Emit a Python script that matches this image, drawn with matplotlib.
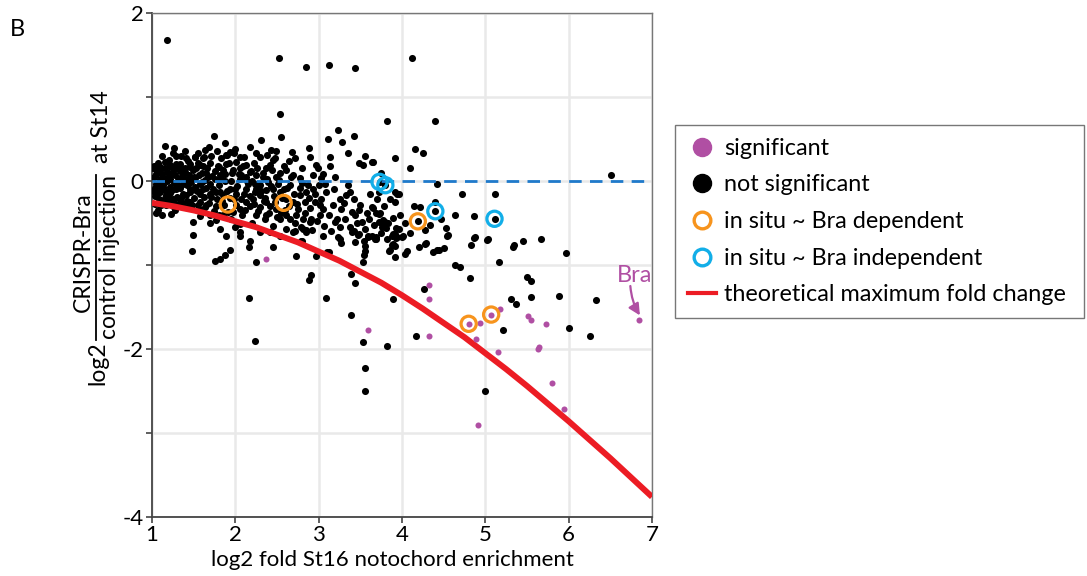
import numpy as np
import matplotlib
matplotlib.use("Agg")
import matplotlib.pyplot as plt
from matplotlib.lines import Line2D
from matplotlib.ticker import FixedLocator, FuncFormatter

plt.rcParams['font.family'] = ['Lato', 'DejaVu Sans']
plt.rcParams['axes.unicode_minus'] = False

# ---------------- data ----------------
# not significant genes (x = log2 St16 notochord enrichment, y = log2 CRISPR/control)
ns_sparse = [(1.18, 1.68), (2.52, 1.47), (2.85, 1.36), (3.12, 1.38), (3.44, 1.35), (4.12, 1.46),
             (2.53, 0.80), (3.23, 0.61), (3.82, 0.72), (4.40, 0.71),
             (1.74, 0.54), (2.55, 0.52), (2.31, 0.49), (3.11, 0.50), (3.28, 0.47), (3.42, 0.53),
             (1.15, 0.42), (1.26, 0.39), (4.16, 0.38), (4.25, 0.33), (3.92, 0.27), (3.65, 0.23),
             (4.09, 0.15), (6.51, 0.07)]

ns_upper = [(1.63, 0.37), (1.52, 0.29), (1.41, 0.27), (1.34, 0.17), (1.22, 0.19), (1.45, 0.17),
            (1.57, 0.19), (1.71, 0.30), (1.83, 0.27), (1.90, 0.31), (1.98, 0.33), (1.92, 0.21),
            (2.01, 0.23), (1.80, 0.17), (2.05, 0.15), (2.13, 0.19), (2.25, 0.33), (2.43, 0.37),
            (2.49, 0.36), (2.47, 0.27), (2.68, 0.34), (2.71, 0.27), (2.88, 0.39), (2.97, 0.19),
            (3.13, 0.29), (3.13, 0.18), (3.48, 0.22), (3.53, 0.19), (3.64, 0.23), (2.25, 0.07),
            (2.17, 0.11), (2.37, 0.15), (2.61, 0.13), (2.69, 0.07), (2.93, 0.07), (2.99, 0.15),
            (3.03, 0.04), (2.41, 0.19), (1.81, 0.07), (1.65, 0.09), (1.37, 0.07), (1.09, 0.11),
            (1.01, 0.15), (1.85, 0.13), (1.97, 0.13), (2.07, 0.07), (2.13, 0.05), (2.33, 0.05),
            (2.49, 0.05), (2.53, 0.09), (2.77, 0.03), (1.29, 0.30), (1.52, 0.29), (1.61, 0.27),
            (1.89, 0.31), (1.94, 0.35), (1.20, 0.25), (1.35, 0.30), (1.43, 0.24), (1.62, 0.28),
            (2.00, 0.38), (2.10, 0.28), (2.22, 0.22), (2.45, 0.25),
            (1.12, 0.30), (1.25, 0.33), (1.40, 0.36), (1.55, 0.33), (1.68, 0.40), (1.78, 0.36),
            (1.87, 0.45), (2.05, 0.28), (2.18, 0.40), (2.30, 0.28), (2.38, 0.31), (2.58, 0.18),
            (2.64, 0.24), (2.80, 0.15), (2.90, 0.28), (3.05, 0.08), (3.20, 0.05), (3.35, 0.33),
            (3.56, 0.30), (3.75, 0.10)]

ns_cluster = [(1.02, 0.05), (1.04, -0.08), (1.03, -0.18), (1.06, 0.12), (1.08, -0.22), (1.10, 0.02),
              (1.11, -0.28), (1.12, 0.08), (1.14, -0.10), (1.15, -0.20), (1.16, 0.15), (1.18, 0.00),
              (1.19, -0.25), (1.20, 0.06), (1.22, -0.14), (1.24, 0.10), (1.25, -0.30), (1.26, -0.02),
              (1.28, 0.14), (1.30, -0.19), (1.31, 0.03), (1.33, -0.08), (1.34, 0.20), (1.36, -0.26),
              (1.38, 0.01), (1.39, 0.11), (1.41, -0.17), (1.42, -0.05), (1.44, 0.07), (1.46, -0.31),
              (1.47, -0.01), (1.49, 0.13), (1.50, -0.20), (1.52, 0.03), (1.54, -0.12), (1.55, 0.22),
              (1.57, -0.04), (1.59, -0.34), (1.60, 0.09), (1.62, -0.19), (1.64, 0.01), (1.66, 0.16),
              (1.68, -0.26), (1.70, -0.03), (1.72, 0.06), (1.74, -0.36), (1.76, 0.12), (1.78, -0.21),
              (1.80, -0.05), (1.83, 0.03), (1.86, -0.29), (1.88, 0.08), (1.90, -0.12), (1.95, 0.00),
              (1.98, -0.22), (2.02, -0.06), (2.06, 0.02), (2.08, -0.40), (2.10, -0.16), (2.15, -0.03),
              (2.18, -0.30), (2.20, 0.00), (2.23, -0.13), (2.27, -0.36), (2.30, -0.05), (2.34, -0.24),
              (2.39, -0.01), (2.42, -0.30), (2.46, -0.18), (2.51, -0.03), (2.55, -0.38), (2.58, -0.10),
              (2.64, -0.30), (2.66, -0.05), (2.75, -0.33), (2.80, -0.02), (2.83, -0.38), (2.88, -0.20),
              (3.00, -0.05), (3.05, -0.33), (1.05, -0.38), (1.12, -0.40), (1.28, -0.35), (1.58, -0.42),
              (1.70, -0.50), (1.95, -0.45), (2.35, -0.45),
              (1.07, -0.35), (1.23, -0.39), (1.49, -0.49), (1.45, -0.25), (1.33, -0.25), (1.25, -0.21),
              (1.17, -0.17), (1.09, -0.13), (1.61, -0.09), (1.53, -0.11), (1.45, -0.09), (1.37, -0.15),
              (1.29, -0.09), (1.21, -0.07), (1.13, -0.05), (1.05, -0.03), (1.65, -0.29), (1.57, -0.25),
              (1.85, -0.41), (1.77, -0.47), (1.69, -0.41), (1.97, -0.37), (2.05, -0.33), (2.13, -0.25),
              (2.21, -0.21), (2.29, -0.17), (2.37, -0.25), (2.49, -0.33), (2.69, -0.25), (2.77, -0.17),
              (2.85, -0.13), (2.93, -0.09), (2.73, -0.41), (2.61, -0.21), (2.53, -0.13), (2.45, -0.09),
              (2.37, -0.11), (2.25, -0.09), (2.13, -0.09), (2.01, -0.15), (1.93, -0.09), (1.85, -0.17),
              (1.77, -0.13), (1.69, -0.15)]

ns_dense = [(1.01, -0.12), (1.02, 0.18), (1.03, -0.27), (1.05, 0.08), (1.06, -0.15), (1.07, 0.22),
            (1.08, -0.02), (1.09, -0.26), (1.10, 0.17), (1.11, -0.08), (1.13, -0.24), (1.14, 0.04),
            (1.15, 0.23), (1.17, -0.28), (1.18, 0.11), (1.19, -0.13), (1.21, -0.22), (1.22, 0.02),
            (1.23, 0.17), (1.24, -0.11), (1.26, -0.26), (1.27, 0.07), (1.29, 0.20), (1.30, -0.04),
            (1.32, -0.30), (1.33, 0.12), (1.35, -0.20), (1.36, 0.05), (1.37, -0.03), (1.39, -0.31),
            (1.40, 0.16), (1.42, -0.24), (1.43, 0.02), (1.45, -0.13), (1.46, 0.20), (1.48, -0.28),
            (1.50, 0.05), (1.51, -0.07), (1.53, 0.15), (1.55, -0.29), (1.56, 0.07), (1.58, -0.15),
            (1.60, -0.01), (1.61, 0.18), (1.63, -0.31), (1.65, -0.08), (1.67, 0.05), (1.69, 0.21),
            (1.71, -0.19), (1.73, -0.10), (1.75, 0.02), (1.77, -0.30), (1.79, 0.18), (1.81, -0.13),
            (1.84, -0.24), (1.87, 0.00), (1.89, 0.20), (1.91, -0.37), (1.93, -0.20), (1.96, 0.10),
            (1.99, -0.10), (2.01, -0.28), (2.04, 0.08), (2.07, -0.22), (2.09, 0.18), (2.12, -0.35),
            (2.14, 0.00), (2.17, -0.18), (2.19, 0.12), (2.22, -0.27), (2.24, -0.03), (2.26, 0.16),
            (2.29, -0.31), (2.31, -0.12), (2.33, 0.10), (2.36, -0.20), (2.38, 0.02), (2.40, -0.38),
            (2.43, -0.06), (2.44, 0.13), (2.48, -0.25), (2.50, -0.43), (2.52, 0.01), (2.56, -0.20),
            (2.60, -0.35), (2.62, -0.08), (2.65, -0.45), (2.67, 0.05), (2.70, -0.15), (2.72, -0.50),
            (2.74, -0.27), (2.78, -0.08), (2.81, -0.45), (2.84, -0.25), (2.87, -0.05), (2.90, -0.32),
            (2.92, -0.58), (2.95, -0.15), (2.98, -0.48), (3.02, -0.28), (3.06, -0.53), (3.08, -0.03),
            (3.12, -0.40), (3.15, -0.60), (3.18, -0.10), (3.22, -0.45), (3.26, -0.55), (3.30, -0.26),
            (3.32, -0.45), (3.35, -0.05), (3.38, -0.55), (3.42, -0.22), (3.46, -0.50), (3.50, -0.28),
            (3.55, -0.57), (3.58, -0.38), (3.61, -0.15), (3.66, -0.52), (3.70, -0.22), (3.75, -0.62),
            (3.78, -0.30), (3.85, -0.22), (3.98, -0.40), (4.03, -0.50), (4.10, -0.62), (4.14, -0.30),
            (4.33, -0.52), (4.47, -0.45), (1.80, -0.40), (2.00, -0.55), (2.20, -0.50)]

ns_mid = [(1.49, -0.64), (1.48, -0.83), (2.05, -0.51), (2.05, -0.65), (2.17, -0.71), (2.16, -0.79),
          (2.25, -0.41), (2.37, -0.41), (2.45, -0.53), (2.53, -0.65), (2.61, -0.41), (2.69, -0.61),
          (2.81, -0.57), (2.85, -0.61), (2.79, -0.71), (2.89, -0.49), (2.91, -0.45), (3.01, -0.41),
          (2.95, -0.25), (3.03, -0.21), (3.09, -0.13), (3.17, -0.29), (3.25, -0.21), (3.27, -0.33),
          (3.33, -0.17), (3.37, -0.13), (3.40, -0.37), (3.44, -0.41), (3.48, -0.35), (3.52, -0.49),
          (3.60, -0.45), (3.64, -0.31), (3.72, -0.39), (3.80, -0.49), (3.82, -0.69), (3.88, -0.65),
          (3.84, -0.83), (3.92, -0.77), (3.94, -0.15), (3.92, -0.25), (3.96, -0.57), (4.04, -0.87),
          (3.64, -0.65), (3.68, -0.69), (3.25, -0.69), (3.20, -0.49), (3.10, -0.85), (3.40, -0.61),
          (3.44, -0.73), (3.56, -0.83), (3.05, -0.65), (2.97, -0.89), (2.73, -0.89), (2.53, -0.45),
          (2.41, -0.61), (2.29, -0.61), (2.45, -0.79), (2.61, -0.57), (1.81, -0.57), (1.89, -0.65),
          (3.72, -0.13), (3.92, -0.13), (3.96, -0.15), (3.65, -0.32), (3.69, -0.38), (3.73, -0.38),
          (4.22, -0.31), (4.40, -0.25), (4.64, -0.40), (4.86, -0.42), (3.72, -0.49), (3.77, -0.47),
          (3.83, -0.50), (3.89, -0.44), (3.76, -0.55), (3.81, -0.56), (3.93, -0.56), (4.28, -0.58),
          (4.53, -0.56), (4.54, -0.66), (3.69, -0.69), (3.89, -0.63), (3.93, -0.68), (4.00, -0.67),
          (4.28, -0.75), (4.20, -0.78), (4.44, -0.82), (4.50, -0.80), (4.86, -0.68), (4.83, -0.76),
          (5.02, -0.70), (3.88, -0.76), (4.06, -0.83), (4.42, -0.03), (4.72, -0.15), (5.11, -0.16),
          (5.45, -0.72), (5.67, -0.69), (5.97, -0.86), (5.33, -0.78), (5.16, -0.96)]

ns_low = [(1.76, -0.95), (1.82, -0.93), (1.88, -0.88), (1.94, -0.82), (2.06, -0.61), (2.25, -0.97),
          (2.16, -1.39), (2.23, -1.90), (2.80, -0.71), (2.88, -1.18), (2.91, -1.12), (3.09, -1.39),
          (3.12, -0.84), (3.23, -0.67), (3.27, -0.74), (3.39, -1.11), (3.44, -1.22), (3.47, -0.64),
          (3.54, -0.71), (3.55, -0.77), (3.54, -0.88), (3.53, -0.97), (3.59, -0.67), (3.69, -0.67),
          (3.39, -1.60), (3.53, -1.92), (3.56, -2.23), (3.56, -2.50), (3.82, -1.97), (3.85, -0.82),
          (3.89, -0.75), (3.91, -0.91), (3.91, -0.63), (3.94, -0.67), (4.01, -0.65), (3.89, -1.40),
          (4.29, -0.74), (4.37, -0.85), (4.42, -0.82), (4.55, -0.64), (4.63, -1.00), (4.70, -1.02),
          (4.82, -1.15), (4.26, -1.29), (4.17, -1.84), (4.87, -0.67), (5.03, -0.69), (5.34, -0.76),
          (5.21, -1.77), (5.31, -1.40), (5.37, -1.47), (5.50, -1.14), (5.55, -1.19), (5.55, -1.38),
          (4.99, -2.50), (5.89, -1.37), (6.00, -1.75), (6.26, -1.84), (6.33, -1.42), (2.71, -0.59),
          (2.79, -0.55), (2.85, -0.58), (3.42, -0.59), (3.48, -0.63), (3.59, -0.66), (4.19, -0.48),
          (4.40, -0.36), (5.11, -0.45), (3.73, -0.01), (3.80, -0.05)]

# significant genes
sig_x = [2.37, 3.59, 4.32, 4.32, 4.32, 4.80, 4.93, 5.07, 5.18, 4.89, 5.51, 5.55, 5.73, 5.15,
         5.63, 5.64, 5.80, 5.94, 4.91, 6.85]
sig_y = [-0.93, -1.77, -1.24, -1.40, -1.85, -1.70, -1.69, -1.59, -1.52, -1.88, -1.61, -1.65,
         -1.70, -2.03, -2.00, -1.98, -2.40, -2.72, -2.90, -1.66]

# in situ validated genes
dep_x = [1.91, 2.58, 4.19, 4.80, 5.07]
dep_y = [-0.28, -0.26, -0.48, -1.70, -1.59]
indep_x = [3.73, 3.80, 4.40, 5.11]
indep_y = [-0.01, -0.05, -0.36, -0.45]

# theoretical maximum fold change curve (read at 0.25 steps)
curve_x = [1, 1.25, 1.5, 1.75, 2, 2.25, 2.5, 2.75, 3, 3.25, 3.5, 3.75, 4,
           4.25, 4.5, 4.75, 5, 5.25, 5.5, 5.75, 6, 6.25, 6.5, 6.75, 7]
curve_y = [-0.26, -0.30, -0.35, -0.41, -0.48, -0.55, -0.64, -0.73, -0.84, -0.95, -1.08, -1.21, -1.36,
           -1.52, -1.69, -1.86, -2.05, -2.24, -2.44, -2.65, -2.86, -3.08, -3.30, -3.53, -3.76]

x_ticks = [1, 2, 3, 4, 5, 6, 7]
y_ticks = [-4, -3, -2, -1, 0, 1, 2]

# ---------------- styles ----------------
PURPLE = '#b04fa3'
ORANGE = '#f7941d'
CYAN = '#12aee8'
RED = '#ec1c24'
DBLUE = '#1f7acb'

W, H = 1087, 576
fig = plt.figure(figsize=(W / 100, H / 100), dpi=100)
ax = fig.add_axes([152 / W, 1 - 517 / H, 500 / W, 504 / H])

ns = np.array(ns_sparse + ns_upper + ns_cluster + ns_dense + ns_mid + ns_low)

ax.set_xlim(1, 7)
ax.set_ylim(-4, 2)
ax.xaxis.set_major_locator(FixedLocator(x_ticks))
ax.yaxis.set_major_locator(FixedLocator(y_ticks))
ax.yaxis.set_major_formatter(FuncFormatter(lambda v, p: f"{int(v)}" if int(v) % 2 == 0 else ""))
ax.grid(True, color='#e9e9e9', lw=1.8, zorder=0)
ax.set_axisbelow(True)

ax.scatter(ns[:, 0], ns[:, 1], s=26, color='black', lw=0, zorder=3)
ax.axhline(0, color=DBLUE, lw=2, ls=(0, (4.5, 3)), zorder=4)
ax.scatter(sig_x, sig_y, s=19, color=PURPLE, lw=0, zorder=5)
ax.plot(curve_x, curve_y, color=RED, lw=4.3, zorder=4, solid_capstyle='butt', solid_joinstyle='round')
ax.scatter(dep_x, dep_y, s=120, facecolors='none', edgecolors=ORANGE, lw=2.3, zorder=6)
ax.scatter(indep_x, indep_y, s=120, facecolors='none', edgecolors=CYAN, lw=2.3, zorder=6)

ax.text(6.79, -1.12, 'Bra', color=PURPLE, fontsize=17, ha='center', va='center')
ax.annotate('', xy=(6.855, -1.60), xytext=(6.74, -1.25),
            arrowprops=dict(arrowstyle='-|>', color=PURPLE, lw=1.6, mutation_scale=17,
                            shrinkA=0, shrinkB=0, connectionstyle='arc3,rad=0.12'))

for s in ['left', 'bottom']:
    ax.spines[s].set_color('#444444')
    ax.spines[s].set_linewidth(1.3)
for s in ['top', 'right']:
    ax.spines[s].set_color('#777777')
    ax.spines[s].set_linewidth(1.0)
ax.tick_params(axis='both', direction='out', length=4, width=1.2, color='#444444',
               labelsize=16, pad=2)

ax.set_xlabel('log2 fold St16 notochord enrichment', fontsize=16, labelpad=3)
ax.xaxis.set_label_coords(0.48, -0.065)

# composite y label
def fx(px):
    return px / W

def fy(py):
    return 1 - py / H

fig.text(fx(98), fy(363), 'log2', rotation=90, fontsize=16.5, ha='center', va='center')
fig.text(fx(83), fy(252), 'CRISPR-Bra', rotation=90, fontsize=16.5, ha='center', va='center')
fig.text(fx(109), fy(257), 'control injection', rotation=90, fontsize=16.5, ha='center', va='center')
fig.text(fx(102), fy(127), 'at St14', rotation=90, fontsize=16.5, ha='center', va='center')
fig.add_artist(Line2D([fx(96), fx(96)], [fy(340), fy(175)], color='black', lw=1.3))

fig.text(fx(10), fy(30), 'B', fontsize=17, ha='left', va='center')

# legend
handles = [
    Line2D([], [], ls='none', marker='o', markersize=13, color=PURPLE, mec=PURPLE),
    Line2D([], [], ls='none', marker='o', markersize=13, color='black'),
    Line2D([], [], ls='none', marker='o', markersize=12, mfc='none', mec=ORANGE, mew=2.4),
    Line2D([], [], ls='none', marker='o', markersize=12, mfc='none', mec=CYAN, mew=2.4),
    Line2D([], [], color=RED, lw=3),
]
labels = ['significant', 'not significant', 'in situ ~ Bra dependent',
          'in situ ~ Bra independent', 'theoretical maximum fold change']
leg = fig.legend(handles, labels, loc='upper left',
                 bbox_to_anchor=(fx(675), fy(315), (1084 - 675) / W, 190 / H), mode='expand',
                 fontsize=16.8, frameon=True, fancybox=False, edgecolor='#555555',
                 borderpad=0.55, labelspacing=0.67, handlelength=1.2, handletextpad=0.35,
                 borderaxespad=0)
leg.get_frame().set_linewidth(1.0)

fig.savefig('out.png', dpi=100)
